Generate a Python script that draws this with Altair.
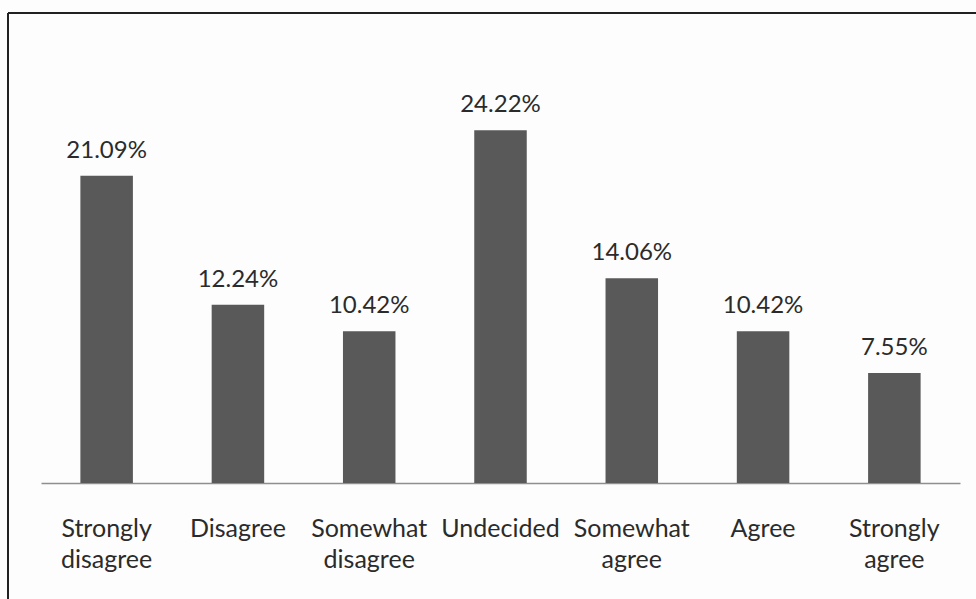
import altair as alt
import pandas as pd

# Survey responses and their shares (%)
categories = ["Strongly disagree", "Disagree", "Somewhat disagree", "Undecided",
              "Somewhat agree", "Agree", "Strongly agree"]
shares = [21.09, 12.24, 10.42, 24.22, 14.06, 10.42, 7.55]

df = pd.DataFrame({"response": categories, "share": shares})
df["label"] = df["share"].map(lambda v: f"{v:.2f}%")

FONT = "Lato"
INK = "#2b2b2b"

x_enc = alt.X(
    "response:N",
    sort=categories,
    scale=alt.Scale(paddingInner=0.6, paddingOuter=0.3),
    axis=alt.Axis(
        title=None,
        ticks=False,
        domain=True,
        domainColor="#8f8f8f",
        domainWidth=1.5,
        labelAngle=0,
        labelFont=FONT,
        labelFontSize=25,
        labelColor=INK,
        labelBaseline="alphabetic",
        labelPadding=53,
        labelLineHeight=31,
        labelExpr="split(datum.value, ' ')",
        labelLimit=0,
    ),
)
y_enc = alt.Y("share:Q", scale=alt.Scale(domain=[0, 30]), axis=None)

bars = alt.Chart(df).mark_bar(color="#595959").encode(x=x_enc, y=y_enc)

labels = alt.Chart(df).mark_text(
    font=FONT, fontSize=24, color=INK, baseline="alphabetic", dy=-18
).encode(x=alt.X("response:N", sort=categories), y="share:Q", text="label:N")

# Frame around the figure (top and left edges)
frame_left = alt.Chart(df).mark_rule(color="#222222", strokeWidth=1.5).encode(
    x=alt.value(-33), y=alt.value(-33), y2=alt.value(560)
)
frame_top = alt.Chart(df).mark_rule(color="#222222", strokeWidth=1.5).encode(
    x=alt.value(-33), x2=alt.value(940), y=alt.value(-33)
)

chart = (
    alt.layer(bars, labels, frame_left, frame_top)
    .properties(
        width=919,
        height=437,
        autosize=alt.AutoSizeParams(type="none"),
        padding={"left": 41, "top": 46, "right": 16, "bottom": 116},
        background="#fdfdfd",
    )
    .configure_view(stroke=None)
)

chart.save("out.html", embed_options={"renderer": "svg", "actions": False})
